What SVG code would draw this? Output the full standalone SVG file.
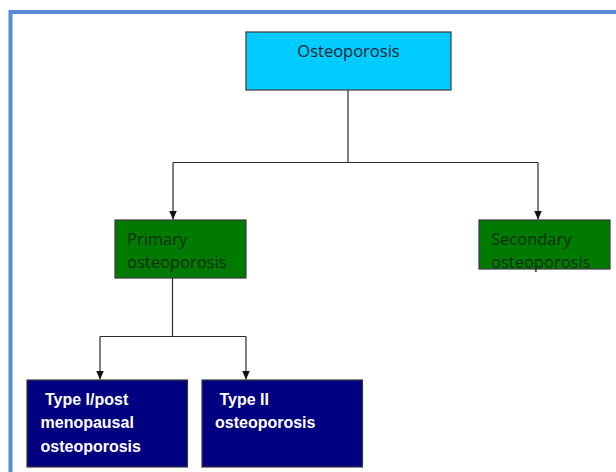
<svg xmlns="http://www.w3.org/2000/svg" width="616" height="472" viewBox="0 0 616 472">
<style>
.box{stroke:#3a3a3a;stroke-width:1.2}
.t{font-family:"Open Sans","Liberation Sans",sans-serif;font-size:16.5px}
.tb{font-family:"Liberation Sans",Arial,sans-serif;font-size:16px;font-weight:bold;fill:#ffffff}
.c{fill:none;stroke:#2a2a2a;stroke-width:1.2}
</style>
<defs>
<marker id="ah" markerWidth="9" markerHeight="8" refX="9" refY="4" orient="auto" markerUnits="userSpaceOnUse" viewBox="0 0 9 8">
<path d="M0,0 L9,4 L0,8 Z" fill="#111"/>
</marker>
</defs>
<rect width="616" height="472" fill="#ffffff"/>
<rect x="10.5" y="12" width="700" height="700" fill="none" stroke="#558ED5" stroke-width="4"/>
<g id="connectors">
<path class="c" d="M348,90 V162.5 M173,162.5 H538"/>
<path class="c" d="M173,162.5 V219.5" marker-end="url(#ah)"/>
<path class="c" d="M538,162.5 V219.5" marker-end="url(#ah)"/>
<path class="c" d="M172.5,278 V336.5 M100,336.5 H246"/>
<path class="c" d="M100,336.5 V379.5" marker-end="url(#ah)"/>
<path class="c" d="M246,336.5 V379.5" marker-end="url(#ah)"/>
</g>
<g id="osteoporosis">
<rect class="box" x="246" y="32" width="205" height="58" fill="#00CCFF"/>
<text class="t" x="348.5" y="57" text-anchor="middle" fill="#10202a">Osteoporosis</text>
</g>
<g id="primary">
<rect class="box" x="115" y="220" width="131" height="58" fill="#007A00"/>
<text class="t" x="127" y="245" fill="#0a2e0a">Primary</text>
<text class="t" x="127" y="268" fill="#0a2e0a">osteoporosis</text>
</g>
<g id="secondary">
<rect class="box" x="479" y="220" width="131" height="49" fill="#007A00"/>
<text class="t" x="491" y="245" fill="#0a2e0a">Secondary</text>
<text class="t" x="491" y="268" fill="#0a2e0a">osteoporosis</text>
</g>
<g id="type1">
<rect class="box" x="27" y="380" width="160.5" height="87" fill="#000080"/>
<text class="tb" x="45" y="405">Type I/post</text>
<text class="tb" x="40.5" y="428">menopausal</text>
<text class="tb" x="40.5" y="452">osteoporosis</text>
</g>
<g id="type2">
<rect class="box" x="202" y="380" width="160.5" height="87" fill="#000080"/>
<text class="tb" x="219.5" y="405">Type II</text>
<text class="tb" x="215" y="428">osteoporosis</text>
</g>
</svg>
